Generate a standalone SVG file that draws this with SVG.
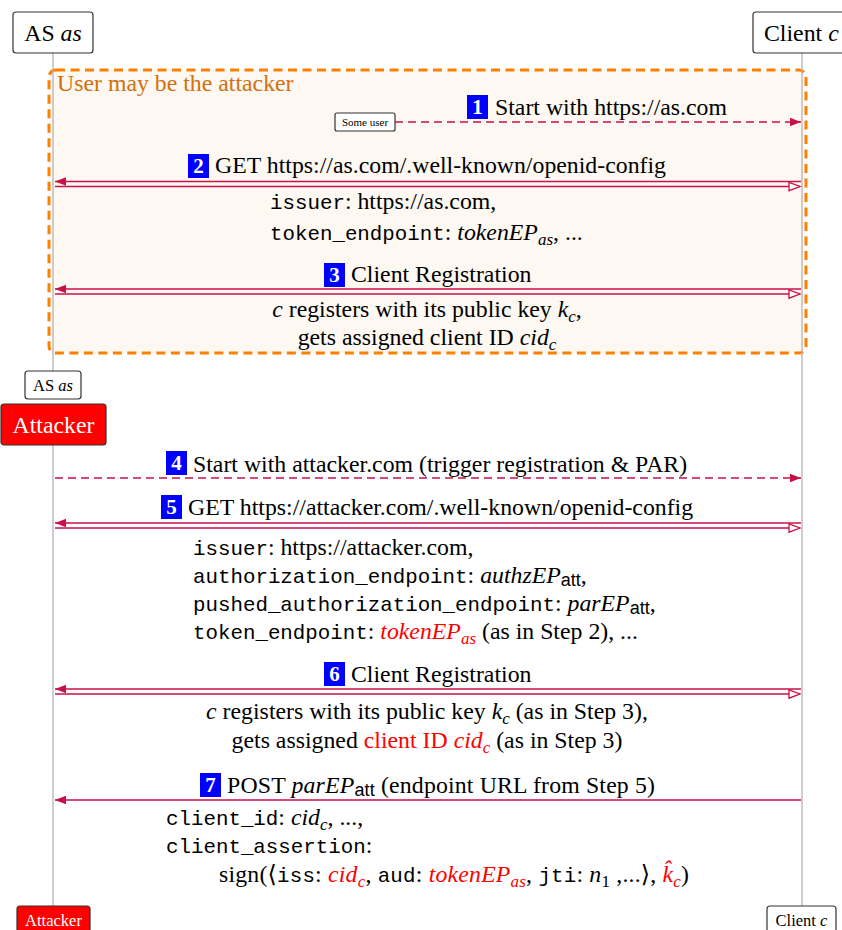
<svg xmlns="http://www.w3.org/2000/svg" width="842" height="930" viewBox="0 0 842 930">
<style>
text{font-family:'Liberation Serif','Tinos','Times New Roman','DejaVu Serif',serif}
.t{font-size:23.8px;fill:#000}
.tt{font-family:'Liberation Mono','DejaVu Sans Mono',monospace;font-size:20.8px}
.it{font-style:italic}
.red{fill:#ff0000}
.sub{font-size:17px}
.sf{font-family:'Liberation Sans','DejaVu Sans',sans-serif;font-size:18px}
.hdr{fill:#fff;stroke:#333;stroke-width:1.2}
.atk{fill:#ff0000;stroke:#333;stroke-width:1.2}
.life{stroke:#b4b4b4;stroke-width:1.3;fill:none}
.msg{stroke:#c8104a;stroke-width:1.5;fill:none}
.dash{stroke-dasharray:8 5}
.num{fill:#0000ff}
.numt{font-size:21px;font-weight:bold;fill:#fff;text-anchor:middle}
.wt{fill:#fff}
</style>
<defs>
<marker id="fh" markerUnits="userSpaceOnUse" markerWidth="12" markerHeight="10" refX="11" refY="5" orient="auto">
<path d="M0,0.8 L11,5 L0,9.2 Z" fill="#c8104a"/>
</marker>
<marker id="oh" markerUnits="userSpaceOnUse" markerWidth="14" markerHeight="12" refX="12" refY="6" orient="auto">
<path d="M1,1.8 L12,6 L1,10.2 Z" fill="#fff" stroke="#c8104a" stroke-width="1.3"/>
</marker>
</defs>
<rect width="842" height="930" fill="#fff"/>

<g id="group-user">
<rect x="49" y="70" width="757" height="283" rx="7" fill="#fdf8f2" stroke="#ff8000" stroke-width="3" stroke-dasharray="9 5.5"/>
<text x="57" y="91" class="t" style="fill:#d2700f">User may be the attacker</text>
</g>

<g id="lifelines">
<line class="life" x1="53" y1="53" x2="53" y2="371"/>
<line class="life" x1="53" y1="445" x2="53" y2="906"/>
<line class="life" x1="802" y1="53" x2="802" y2="906"/>
</g>

<g id="as-top">
<rect class="hdr" x="13" y="12" width="80" height="41" rx="3"/>
<text x="53" y="41" class="t" text-anchor="middle">AS <tspan class="it">as</tspan></text>
</g>
<g id="client-top">
<rect class="hdr" x="753" y="12" width="96" height="41" rx="3"/>
<text x="764" y="41" class="t">Client <tspan class="it">c</tspan></text>
</g>
<g id="some-user">
<rect class="hdr" x="335" y="113" width="60" height="18" rx="2" stroke-width="1"/>
<text x="365" y="126" class="t" style="font-size:11px" text-anchor="middle">Some user</text>
</g>
<g id="as-end">
<rect class="hdr" x="25" y="371" width="56" height="28" rx="3"/>
<text x="53" y="391" class="t" style="font-size:16.5px" text-anchor="middle">AS <tspan class="it">as</tspan></text>
</g>
<g id="attacker-top">
<rect class="atk" x="1" y="404" width="105" height="41" rx="3"/>
<text x="53.5" y="433" class="t wt" text-anchor="middle">Attacker</text>
</g>
<g id="attacker-bottom">
<rect class="atk" x="17" y="906" width="73" height="32" rx="3"/>
<text x="53.5" y="926" class="t wt" style="font-size:16.5px" text-anchor="middle">Attacker</text>
</g>
<g id="client-bottom">
<rect class="hdr" x="767" y="906" width="69" height="32" rx="3"/>
<text x="801.5" y="926" class="t" style="font-size:16.5px" text-anchor="middle">Client <tspan class="it">c</tspan></text>
</g>

<g id="connectors">
<line class="msg dash" x1="395" y1="122" x2="801" y2="122" marker-end="url(#fh)"/>
<line class="msg" x1="801" y1="181.5" x2="55" y2="181.5" marker-end="url(#fh)"/>
<line class="msg" x1="55" y1="186.5" x2="800" y2="186.5" marker-end="url(#oh)"/>
<line class="msg" x1="801" y1="289" x2="55" y2="289" marker-end="url(#fh)"/>
<line class="msg" x1="55" y1="294" x2="800" y2="294" marker-end="url(#oh)"/>
<line class="msg dash" x1="55" y1="478" x2="801" y2="478" marker-end="url(#fh)"/>
<line class="msg" x1="801" y1="523" x2="55" y2="523" marker-end="url(#fh)"/>
<line class="msg" x1="55" y1="528" x2="800" y2="528" marker-end="url(#oh)"/>
<line class="msg" x1="801" y1="689" x2="55" y2="689" marker-end="url(#fh)"/>
<line class="msg" x1="55" y1="694" x2="800" y2="694" marker-end="url(#oh)"/>
<line class="msg" x1="801" y1="800" x2="55" y2="800" marker-end="url(#fh)"/>
</g>

<g id="label-1">
<rect class="num" x="467" y="95" width="21" height="24"/>
<text x="477.5" y="114" class="numt">1</text>
<text x="495" y="115" class="t">Start with https://as.com</text>
</g>
<g id="label-2">
<rect class="num" x="188" y="154" width="21" height="24"/>
<text x="198.5" y="173" class="numt">2</text>
<text x="215" y="173" class="t">GET https://as.com/.well-known/openid-config</text>
<text x="270" y="209" class="t"><tspan class="tt">issuer</tspan>: https://as.com,</text>
<text x="270" y="240" class="t"><tspan class="tt">token_endpoint</tspan>: <tspan class="it">tokenEP</tspan><tspan class="it sub" dy="5">as</tspan><tspan dy="-5">, ...</tspan></text>
</g>
<g id="label-3">
<rect class="num" x="324" y="263" width="21" height="24"/>
<text x="334.5" y="282" class="numt">3</text>
<text x="351" y="282" class="t">Client Registration</text>
<text x="427" y="317" class="t" text-anchor="middle"><tspan class="it">c</tspan> registers with its public key <tspan class="it">k</tspan><tspan class="it sub" dy="5">c</tspan><tspan dy="-5">,</tspan></text>
<text x="427" y="345" class="t" text-anchor="middle">gets assigned client ID <tspan class="it">cid</tspan><tspan class="it sub" dy="5">c</tspan></text>
</g>
<g id="label-4">
<rect class="num" x="166" y="451" width="21" height="24"/>
<text x="176.5" y="470" class="numt">4</text>
<text x="193" y="472" class="t">Start with attacker.com (trigger registration &amp; PAR)</text>
</g>
<g id="label-5">
<rect class="num" x="161" y="495" width="21" height="24"/>
<text x="171.5" y="514" class="numt">5</text>
<text x="188" y="515" class="t">GET https://attacker.com/.well-known/openid-config</text>
<text x="193" y="555" class="t"><tspan class="tt">issuer</tspan>: https://attacker.com,</text>
<text x="193" y="583" class="t"><tspan class="tt">authorization_endpoint</tspan>: <tspan class="it">authzEP</tspan><tspan class="sf" dy="3">att</tspan><tspan dy="-3">,</tspan></text>
<text x="193" y="611" class="t"><tspan class="tt">pushed_authorization_endpoint</tspan>: <tspan class="it">parEP</tspan><tspan class="sf" dy="3">att</tspan><tspan dy="-3">,</tspan></text>
<text x="193" y="639" class="t"><tspan class="tt">token_endpoint</tspan>: <tspan class="it red">tokenEP</tspan><tspan class="it sub red" dy="5">as</tspan><tspan dy="-5"> (as in Step 2), ...</tspan></text>
</g>
<g id="label-6">
<rect class="num" x="324" y="662" width="21" height="24"/>
<text x="334.5" y="681" class="numt">6</text>
<text x="351" y="682" class="t">Client Registration</text>
<text x="427" y="719" class="t" text-anchor="middle"><tspan class="it">c</tspan> registers with its public key <tspan class="it">k</tspan><tspan class="it sub" dy="5">c</tspan><tspan dy="-5"> (as in Step 3),</tspan></text>
<text x="427" y="748" class="t" text-anchor="middle">gets assigned <tspan class="red">client ID </tspan><tspan class="it red">cid</tspan><tspan class="it sub red" dy="5">c</tspan><tspan dy="-5"> (as in Step 3)</tspan></text>
</g>
<g id="label-7">
<rect class="num" x="200" y="773" width="21" height="24"/>
<text x="210.5" y="792" class="numt">7</text>
<text x="227" y="793" class="t" textLength="428" lengthAdjust="spacing">POST <tspan class="it">parEP</tspan><tspan class="sf" dy="3">att</tspan><tspan dy="-3"> (endpoint URL from Step 5)</tspan></text>
<text x="166" y="825" class="t"><tspan class="tt">client_id</tspan>: <tspan class="it">cid</tspan><tspan class="it sub" dy="5">c</tspan><tspan dy="-5">, ...,</tspan></text>
<text x="166" y="853" class="t"><tspan class="tt">client_assertion</tspan>:</text>
<text x="219" y="882" class="t" textLength="470" lengthAdjust="spacing">sign(⟨<tspan class="tt">iss</tspan>: <tspan class="it red">cid</tspan><tspan class="it sub red" dy="5">c</tspan><tspan dy="-5">, </tspan><tspan class="tt">aud</tspan>: <tspan class="it red">tokenEP</tspan><tspan class="it sub red" dy="5">as</tspan><tspan dy="-5">, </tspan><tspan class="tt">jti</tspan>: <tspan class="it">n</tspan><tspan class="sub" dy="5">1</tspan><tspan dy="-5"> ,...⟩, </tspan><tspan class="it red">k̂</tspan><tspan class="it sub red" dy="5">c</tspan><tspan dy="-5">)</tspan></text>
</g>
</svg>
